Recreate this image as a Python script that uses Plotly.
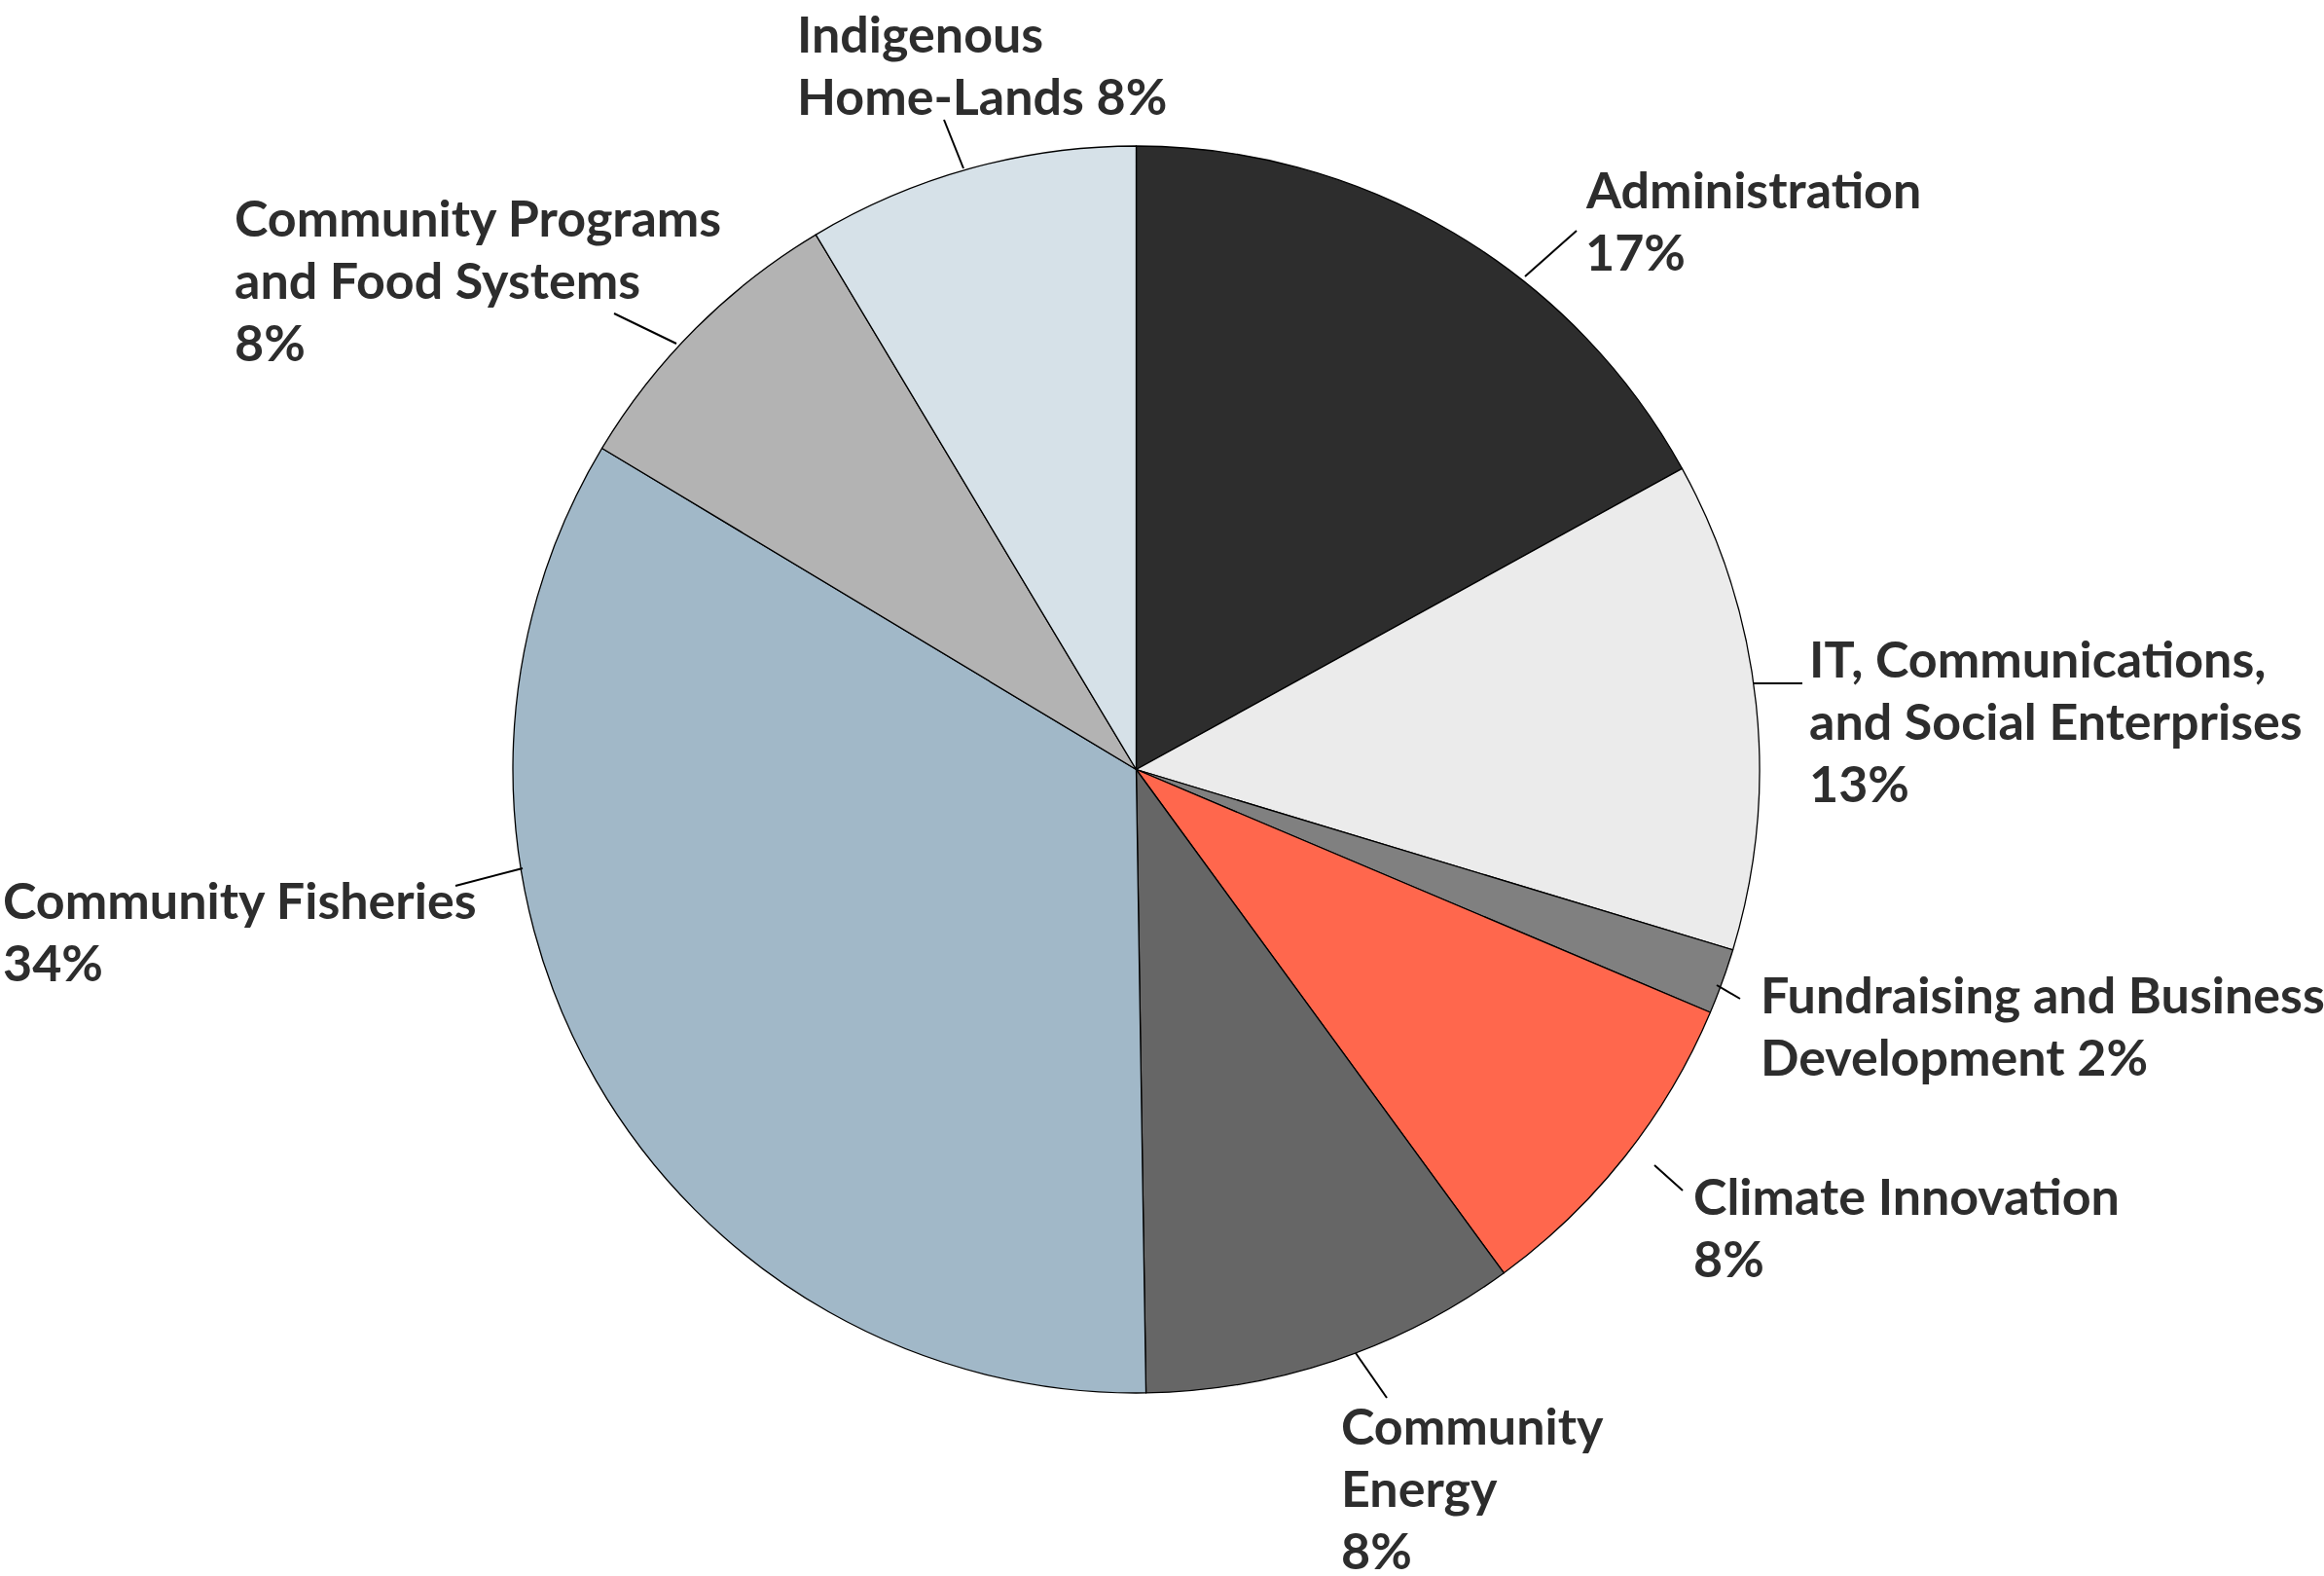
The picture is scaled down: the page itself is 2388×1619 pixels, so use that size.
import plotly.graph_objects as go

W, H = 2388, 1619

# ---- data ----
categories = [
    "Administration",
    "IT, Communications, and Social Enterprises",
    "Fundraising and Business Development",
    "Climate Innovation",
    "Community Energy",
    "Community Fisheries",
    "Community Programs and Food Systems",
    "Indigenous Home-Lands",
]
values = [17.0, 12.7, 1.7, 8.6, 9.8, 33.9, 7.8, 8.6]
label_lines = [
    ["Administration", "17%"],
    ["IT, Communications,", "and Social Enterprises", "13%"],
    ["Fundraising and Business", "Development 2%"],
    ["Climate Innovation", "8%"],
    ["Community", "Energy", "8%"],
    ["Community Fisheries", "34%"],
    ["Community Programs", "and Food Systems", "8%"],
    ["Indigenous", "Home-Lands 8%"],
]
colors = ["#2d2d2d", "#ebebeb", "#808080", "#ff674d",
          "#666666", "#a1b8c8", "#b3b3b3", "#d6e1e8"]

# ---- layout (page-pixel positions of labels and leader lines) ----
# first-line baseline (x_left, y_baseline)
label_pos = [(1628, 213), (1858, 695), (1808, 1040), (1739, 1247),
             (1377, 1483), (2, 943), (240, 242), (818, 53)]
LINE_GAP = 64
leader = [((1567, 284), (1620, 237)),
          ((1802, 702), (1852, 702)),
          ((1764, 1012), (1788, 1026)),
          ((1700, 1197), (1729, 1223)),
          ((1393, 1390), (1425, 1436)),
          ((537, 892), (468, 910)),
          ((695, 353), (631, 322)),
          ((990, 173), (970, 123))]

FS = 52
FONT = "Lato"
TXT = "#2d2d2d"

px = lambda x: x / W
py = lambda y: 1 - y / H

fig = go.Figure(go.Pie(
    labels=categories, values=values, sort=False, direction="clockwise",
    rotation=0, textinfo="none", hoverinfo="label+percent",
    marker=dict(colors=colors, line=dict(color="#000000", width=1.3)),
    domain=dict(x=[px(527), px(1808)], y=[py(1431), py(150)]),
    showlegend=False,
))

annotations = []
for (x, yb), lines in zip(label_pos, label_lines):
    for i, t in enumerate(lines):
        annotations.append(dict(
            x=px(x), y=py(yb + i * LINE_GAP - 0.98 * FS),
            xref="paper", yref="paper",
            xanchor="left", yanchor="top", align="left", showarrow=False,
            text=t, font=dict(family=FONT, size=FS, color=TXT, weight=700),
            borderpad=0,
        ))

shapes = []
for (a, b) in leader:
    shapes.append(dict(type="line", xref="paper", yref="paper",
                       x0=px(a[0]), y0=py(a[1]), x1=px(b[0]), y1=py(b[1]),
                       line=dict(color="#000000", width=2)))

fig.update_layout(
    width=W, height=H, margin=dict(l=0, r=0, t=0, b=0),
    paper_bgcolor="white", plot_bgcolor="white",
    annotations=annotations, shapes=shapes,
)

fig.write_html(
    "out.html",
    config={"displayModeBar": False},
    post_script="document.body.style.margin='0';document.body.style.overflow='hidden';",
)
